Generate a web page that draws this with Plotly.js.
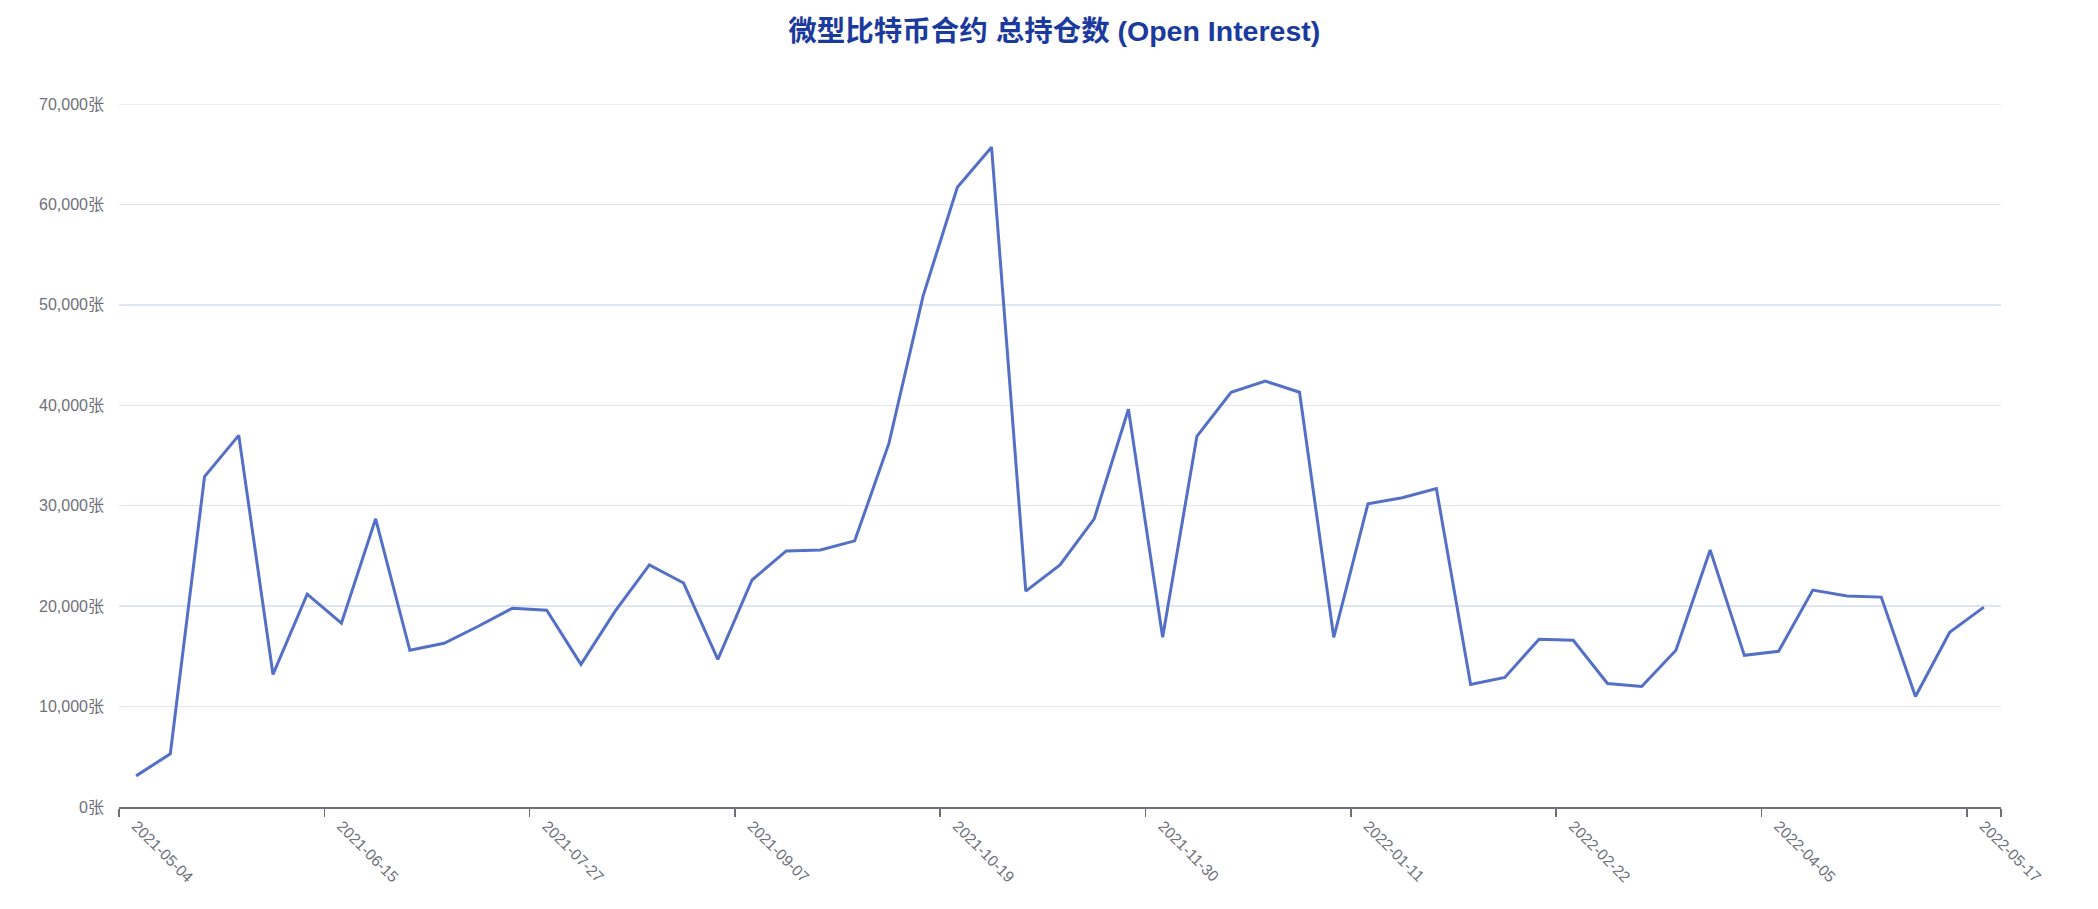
<!DOCTYPE html>
<html>
<head>
<meta charset="utf-8">
<script src="https://cdn.plot.ly/plotly-3.0.1.min.js"></script>
<style>
  html, body { margin: 0; padding: 0; background: #ffffff; }
  #chart { width: 2098px; height: 909px; }
</style>
</head>
<body>
<div id="chart"></div>
<script>
// Weekly dates (categories)
const dates = [
  "2021-05-04","2021-05-11","2021-05-18","2021-05-25","2021-06-01","2021-06-08",
  "2021-06-15","2021-06-22","2021-06-29","2021-07-06","2021-07-13","2021-07-20",
  "2021-07-27","2021-08-03","2021-08-10","2021-08-17","2021-08-24","2021-08-31",
  "2021-09-07","2021-09-14","2021-09-21","2021-09-28","2021-10-05","2021-10-12",
  "2021-10-19","2021-10-26","2021-11-02","2021-11-09","2021-11-16","2021-11-23",
  "2021-11-30","2021-12-07","2021-12-14","2021-12-21","2021-12-28","2022-01-04",
  "2022-01-11","2022-01-18","2022-01-25","2022-02-01","2022-02-08","2022-02-15",
  "2022-02-22","2022-03-01","2022-03-08","2022-03-15","2022-03-22","2022-03-29",
  "2022-04-05","2022-04-12","2022-04-19","2022-04-26","2022-05-03","2022-05-10",
  "2022-05-17"
];

// Open interest (contracts, 张)
const openInterest = [
  3100, 5300, 32900, 37000, 13200, 21200,
  18300, 28700, 15600, 16300, 18000, 19800,
  19600, 14200, 19500, 24100, 22300, 14700,
  22600, 25500, 25600, 26500, 36200, 50900,
  61700, 65700, 21500, 24100, 28700, 39600,
  16900, 36900, 41300, 42400, 41300, 16900,
  30200, 30800, 31700, 12200, 12900, 16700,
  16600, 12300, 12000, 15600, 25600, 15100,
  15500, 21600, 21000, 20900, 11000, 17400,
  19900
];

// Labelled categories on the x axis
const xTickLabels = [
  "2021-05-04","2021-06-15","2021-07-27","2021-09-07","2021-10-19",
  "2021-11-30","2022-01-11","2022-02-22","2022-04-05","2022-05-17"
];

const yTickVals = [0, 10000, 20000, 30000, 40000, 50000, 60000, 70000];
const yMax = 70000;

const titleText = "微型比特币合约 总持仓数 (Open Interest)";
const unit = "张";

const FONT = '"Liberation Sans", Arial, "Noto Sans CJK SC", sans-serif';
const GRID = "#E0E6F1";

const trace = {
  type: "scatter",
  mode: "lines",
  x: dates,
  y: openInterest,
  line: { color: "#5470c6", width: 3 },
  hoverinfo: "x+y"
};

const layout = {
  width: 2098,
  height: 909,
  paper_bgcolor: "#ffffff",
  plot_bgcolor: "#ffffff",
  margin: { l: 119, r: 97, t: 104, b: 102 },
  showlegend: false,
  font: { family: FONT, color: "#6E7079", size: 15 },
  title: {
    text: "<b>" + titleText + "</b>",
    font: { family: FONT, size: 28.5, color: "#1b3a9e" },
    x: 0.5025,
    xanchor: "center",
    y: 0.966,
    yanchor: "middle"
  },
  xaxis: {
    type: "category",
    categoryorder: "array",
    categoryarray: dates,
    range: [-0.5, dates.length - 0.5],
    tickmode: "array",
    tickvals: xTickLabels,
    ticktext: xTickLabels,
    tickson: "boundaries",
    tickangle: 45,
    ticks: "outside",
    ticklen: 8,
    tickwidth: 1.5,
    tickcolor: "#6E7079",
    showline: true,
    linecolor: "#6E7079",
    linewidth: 2,
    showgrid: false,
    zeroline: false,
    tickfont: { family: FONT, size: 15.5, color: "#6E7079" },
    ticklabelstandoff: 2,
    fixedrange: true
  },
  yaxis: {
    range: [0, yMax],
    tickmode: "array",
    tickvals: yTickVals,
    ticktext: yTickVals.map(v => v.toLocaleString("en-US") + unit),
    showline: false,
    ticks: "",
    showgrid: true,
    gridcolor: GRID,
    gridwidth: 1.5,
    zeroline: false,
    tickfont: { family: FONT, size: 16, color: "#6E7079" },
    ticklabelstandoff: 14,
    fixedrange: true
  },
  shapes: [{
    type: "line",
    layer: "below",
    xref: "paper", x0: 0, x1: 1,
    yref: "y", y0: yMax, y1: yMax,
    line: { color: GRID, width: 1.5 }
  }]
};

Plotly.newPlot("chart", [trace], layout, { displayModeBar: false, staticPlot: true });
</script>
</body>
</html>
